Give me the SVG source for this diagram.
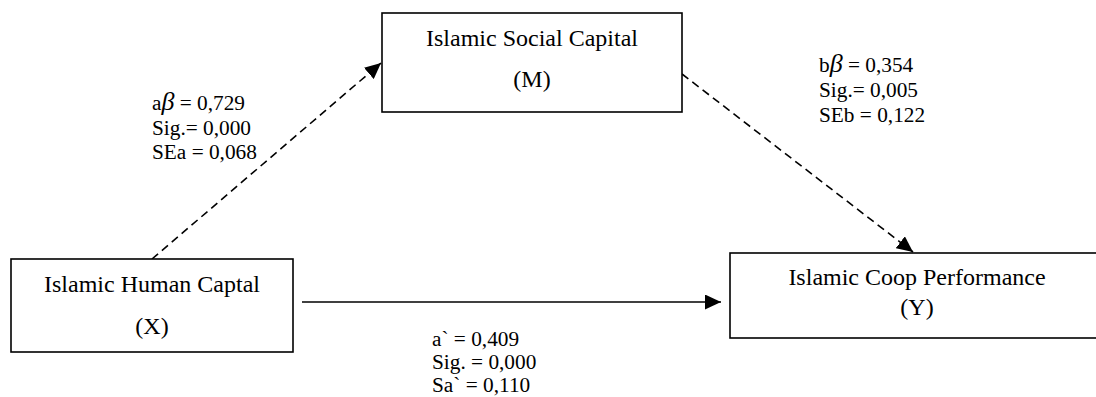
<svg xmlns="http://www.w3.org/2000/svg" width="1096" height="397" viewBox="0 0 1096 397">
<style>
.box{fill:#fff;stroke:#000;stroke-width:1.6}
.t{font-family:"Liberation Serif","Times New Roman",serif;font-size:24px;fill:#000;text-anchor:middle}
.l{font-family:"Liberation Serif","Times New Roman",serif;font-size:21.3px;fill:#000}
.b{font-style:italic;font-size:26px}
.c{stroke:#000;stroke-width:1.6;fill:none}
.d{stroke-dasharray:8,5}
</style>
<defs>
<marker id="ah" markerUnits="userSpaceOnUse" markerWidth="17" markerHeight="15" refX="16" refY="7.5" orient="auto">
<path d="M0,0 L16,7.5 L0,15 z" fill="#000"/>
</marker>
</defs>
<g id="connectors">
<line class="c d" x1="152" y1="259" x2="381" y2="63" marker-end="url(#ah)"/>
<line class="c d" x1="682" y1="74" x2="913" y2="252" marker-end="url(#ah)"/>
<line class="c" x1="302" y1="302" x2="721" y2="302" marker-end="url(#ah)"/>
</g>
<g id="node-m">
<rect class="box" x="382" y="13" width="300" height="99"/>
<text class="t" x="532" y="46">Islamic Social Capital</text>
<text class="t" x="532" y="87">(M)</text>
</g>
<g id="node-x">
<rect class="box" x="11" y="259" width="282" height="93"/>
<text class="t" x="152" y="292">Islamic Human Captal</text>
<text class="t" x="152" y="334">(X)</text>
</g>
<g id="node-y">
<rect class="box" x="730" y="253" width="380" height="85"/>
<text class="t" x="917" y="285">Islamic Coop Performance</text>
<text class="t" x="917" y="315">(Y)</text>
</g>
<g id="labels">
<text class="l" x="152" y="110">a<tspan class="b">β</tspan> = 0,729</text>
<text class="l" x="152" y="135">Sig.= 0,000</text>
<text class="l" x="152" y="159">SEa = 0,068</text>
<text class="l" x="819" y="72">b<tspan class="b">β</tspan> = 0,354</text>
<text class="l" x="819" y="97">Sig.= 0,005</text>
<text class="l" x="819" y="122">SEb = 0,122</text>
<text class="l" x="432" y="346">a` = 0,409</text>
<text class="l" x="432" y="369">Sig. = 0,000</text>
<text class="l" x="432" y="392">Sa` = 0,110</text>
</g>
</svg>
